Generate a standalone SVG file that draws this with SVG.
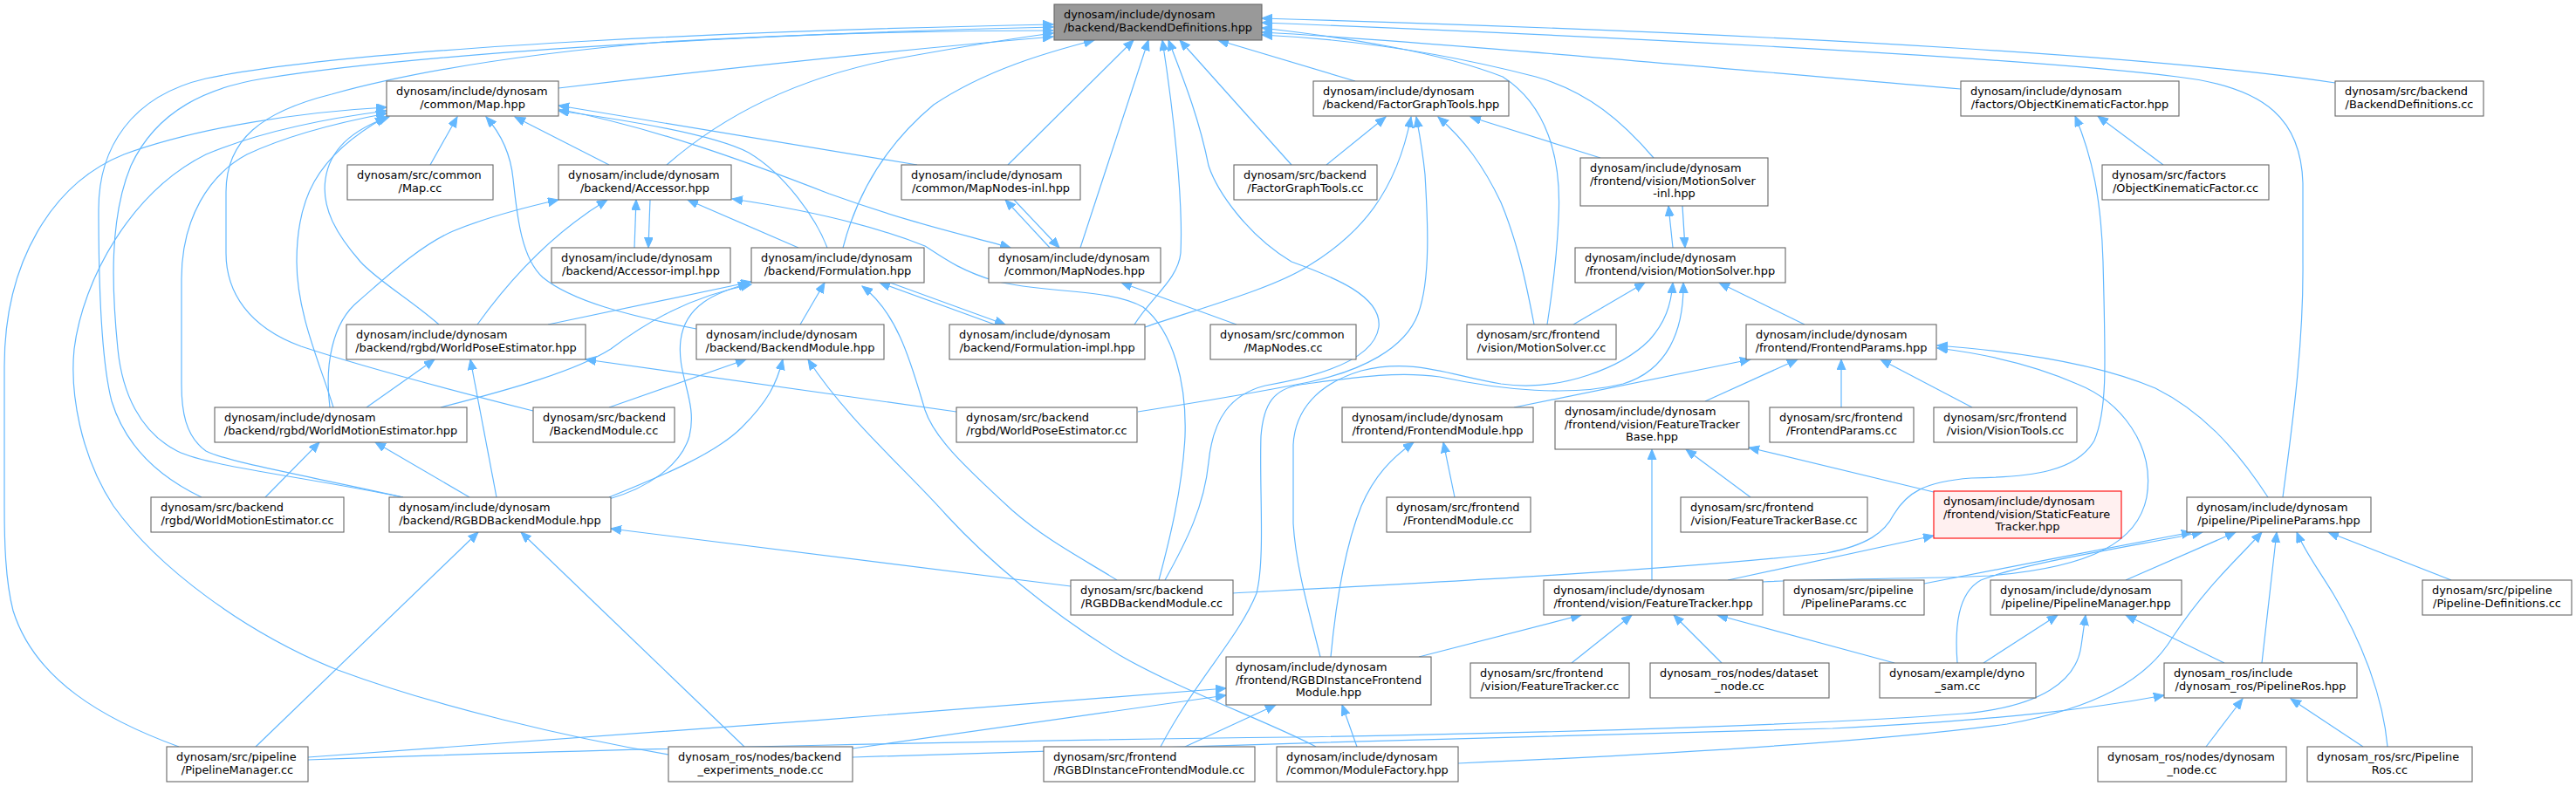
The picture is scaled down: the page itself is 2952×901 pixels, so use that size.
<svg xmlns="http://www.w3.org/2000/svg" width="2952" height="901" viewBox="0 0 2952 901">
<style>
.n rect{fill:#fff;stroke:#666;stroke-width:1.1}
.r rect{fill:#999;stroke:#666;stroke-width:1.1}
.t rect{fill:#fff0f0;stroke:#f00;stroke-width:1.1}
text{font-family:"DejaVu Sans","Liberation Sans",sans-serif;font-size:12.9px;fill:#000}
.c{text-anchor:middle}
#edges path{fill:none;stroke:#63b8ff;stroke-width:1.2;marker-end:url(#a)}
</style>
<defs>
<marker id="a" markerWidth="13" markerHeight="11" refX="12" refY="5" orient="auto" markerUnits="userSpaceOnUse"><path d="M0,0 L12,5 L0,10 z" fill="#63b8ff" stroke="#63b8ff" stroke-width="1"/></marker>
</defs>
<rect width="2952" height="901" fill="#fff"/>
<g id="edges">
<path d="M640,101 C800,82 1000,60 1207,42"/>
<path d="M231,570 C185,548 145,515 128,460 C115,410 113,300 113,240 C113,170 150,110 236,90 C420,52 900,34 1207,28"/>
<path d="M462,570 C340,545 240,535 203,517 C160,495 140,450 135,400 C128,330 125,250 150,190 C180,125 240,100 302,90 C500,58 900,38 1207,31"/>
<path d="M611,471 C520,448 420,422 345,397 C285,375 259,335 259,290 L259,220 C259,160 300,128 380,108 C480,80 620,60 760,48 C930,38 1100,35 1207,35"/>
<path d="M493,189 L524,134"/>
<path d="M698,189 L590,134"/>
<path d="M798,377 C720,362 655,345 622,318 C596,295 592,240 588,205 C585,175 573,152 557,134"/>
<path d="M503,372 C470,343 433,322 413,300 C385,268 368,238 373,205 C378,170 405,148 446,134"/>
<path d="M382,467 C368,420 340,360 340,300 C340,230 360,180 442,134"/>
<path d="M462,570 C350,545 262,530 236,517 C212,500 208,470 208,440 L208,320 C208,250 240,200 283,177 C330,155 390,140 443,130"/>
<path d="M766,865 C650,845 500,810 387,768 C280,725 180,650 130,580 C92,522 80,450 85,400 C95,320 150,220 236,177 C300,150 380,135 443,127"/>
<path d="M205,856 C120,825 40,780 15,700 C6,665 5,620 5,580 L5,420 C5,300 60,210 142,177 C230,145 350,128 443,123"/>
<path d="M948,284 C935,250 900,200 858,175 C820,155 720,138 640,127"/>
<path d="M1051,189 L640,121"/>
<path d="M640,125 C750,147 850,183 950,222 C1050,258 1110,270 1158,284"/>
<path d="M1203,284 L1152,229"/>
<path d="M1162,229 L1214,284"/>
<path d="M1155,189 L1299,46"/>
<path d="M1238,284 L1316,46"/>
<path d="M966,284 C980,230 1010,170 1070,120 C1130,80 1200,60 1254,46"/>
<path d="M764,189 C820,140 900,92 1023,68 C1100,54 1160,44 1207,38"/>
<path d="M1480,189 L1352,46"/>
<path d="M1553,93 L1396,46"/>
<path d="M2247,102 C1900,72 1600,45 1446,37"/>
<path d="M2676,95 C2500,68 2100,40 1446,21"/>
<path d="M2616,570 C2625,500 2640,400 2639,300 L2639,210 C2637,140 2600,100 2495,88 C2300,64 1800,40 1446,26"/>
<path d="M1895,181 C1860,140 1820,105 1760,88 C1660,62 1550,45 1446,40"/>
<path d="M1773,372 C1778,340 1784,300 1786,250 C1790,180 1772,120 1722,88 C1650,60 1550,44 1446,32"/>
<path d="M1520,189 L1588,134"/>
<path d="M1834,181 L1685,134"/>
<path d="M1758,372 C1750,330 1740,280 1720,232 C1700,190 1678,160 1648,134"/>
<path d="M1312,375 C1380,352 1460,330 1499,305 C1560,268 1600,220 1617,134"/>
<path d="M1917,284 L1912,236"/>
<path d="M1928,236 L1931,284"/>
<path d="M1803,372 L1885,324"/>
<path d="M2068,372 L1970,324"/>
<path d="M2479,189 L2404,133"/>
<path d="M1412,680 C1600,670 1900,655 2093,634 C2140,625 2160,610 2170,590 C2185,565 2205,552 2259,548 C2330,547 2380,540 2400,505 C2415,470 2413,420 2410,300 C2408,230 2398,180 2378,133"/>
<path d="M2599,570 C2560,510 2520,470 2470,445 C2400,415 2300,402 2220,396"/>
<path d="M2020,667 C2100,663 2200,664 2280,660 C2400,650 2450,620 2460,570 C2470,510 2430,460 2380,440 C2330,418 2270,405 2220,399"/>
<path d="M1735,467 L2006,412"/>
<path d="M1954,460 L2060,412"/>
<path d="M2110,467 L2110,412"/>
<path d="M2260,467 L2155,412"/>
<path d="M2220,565 L2004,513"/>
<path d="M1893,665 L1893,515"/>
<path d="M2006,570 L1932,515"/>
<path d="M1667,570 L1654,507"/>
<path d="M1525,753 C1530,700 1540,630 1560,580 C1575,545 1595,525 1620,507"/>
<path d="M1980,665 L2216,614"/>
<path d="M1626,753 L1812,705"/>
<path d="M1801,760 L1870,705"/>
<path d="M1973,760 L1918,705"/>
<path d="M2171,760 L1968,705"/>
<path d="M2273,760 L2358,705"/>
<path d="M2243,760 C2240,720 2243,680 2270,665 C2320,645 2450,625 2524,610"/>
<path d="M2205,669 C2300,650 2420,628 2512,610"/>
<path d="M2436,665 L2562,610"/>
<path d="M2592,760 L2609,610"/>
<path d="M2736,856 C2731,800 2708,738 2674,681 C2655,650 2640,630 2632,610"/>
<path d="M2809,665 L2668,610"/>
<path d="M1671,875 C1900,865 2150,850 2300,830 C2400,812 2460,780 2490,730 C2530,670 2565,640 2592,610"/>
<path d="M353,871 C700,858 1200,848 1480,845 C1800,840 2100,830 2250,818 C2340,810 2380,780 2385,740 L2390,705"/>
<path d="M353,868 C600,850 1100,815 1405,789"/>
<path d="M977,858 L1405,797"/>
<path d="M977,868 C1300,855 1800,845 2100,835 C2300,825 2400,812 2480,797"/>
<path d="M2528,856 L2570,801"/>
<path d="M2708,856 L2625,801"/>
<path d="M2549,760 L2436,705"/>
<path d="M1555,856 L1538,808"/>
<path d="M1358,856 L1462,808"/>
<path d="M1508,856 C1460,830 1350,790 1283,751 C1200,700 1130,640 1085,591 C1040,540 970,480 926,412"/>
<path d="M1280,665 C1240,640 1200,620 1160,585 C1100,530 1070,500 1060,470 C1045,420 1030,360 988,328"/>
<path d="M1328,665 C1340,620 1355,560 1358,500 C1360,440 1345,380 1310,352 C1270,330 1200,337 1140,322 C1100,310 1080,295 1060,282 C1000,258 920,240 839,228"/>
<path d="M1227,672 C1000,645 800,620 700,606"/>
<path d="M293,856 L548,610"/>
<path d="M853,856 L597,610"/>
<path d="M698,570 C760,545 820,520 850,490 C880,460 890,440 897,412"/>
<path d="M698,572 C740,560 780,535 790,500 C800,460 775,430 780,390 C785,350 820,335 858,325"/>
<path d="M569,570 L539,412"/>
<path d="M538,570 L430,507"/>
<path d="M304,570 L366,507"/>
<path d="M420,467 L498,412"/>
<path d="M378,467 C372,420 380,370 411,345 C440,320 480,282 519,265 C560,248 600,238 640,229"/>
<path d="M505,467 C590,445 660,425 700,400 C740,370 790,340 861,326"/>
<path d="M628,372 L861,323"/>
<path d="M547,372 C570,340 620,275 696,229"/>
<path d="M1096,472 L671,412"/>
<path d="M698,467 L855,412"/>
<path d="M917,372 L945,324"/>
<path d="M1140,372 L1008,324"/>
<path d="M1020,324 L1152,372"/>
<path d="M727,284 L729,229"/>
<path d="M745,229 L743,284"/>
<path d="M915,284 L788,229"/>
<path d="M1417,372 L1285,324"/>
<path d="M1300,372 C1320,340 1350,320 1353,290 C1356,230 1345,130 1332,46"/>
<path d="M1335,665 C1360,620 1380,580 1385,530 C1390,480 1410,452 1450,442 C1520,430 1575,410 1580,375 C1584,340 1530,318 1480,300 C1430,270 1395,220 1385,190 C1375,140 1360,100 1339,46"/>
<path d="M1330,856 C1370,780 1420,730 1440,680 C1450,640 1443,560 1445,500 C1448,462 1460,446 1490,441 C1550,433 1600,425 1650,432 C1720,447 1800,455 1860,440 C1910,425 1930,380 1929,324"/>
<path d="M1513,753 C1500,700 1485,650 1482,600 L1482,510 C1484,470 1510,440 1560,425 C1620,410 1660,430 1720,440 C1790,450 1860,420 1890,390 C1908,370 1915,350 1917,324"/>
<path d="M1304,472 C1380,460 1440,450 1500,438 C1560,425 1610,400 1625,360 C1640,320 1636,250 1633,200 C1630,170 1626,150 1623,134"/>
</g>
<g id="n0" class="r"><rect x="1208" y="5" width="238" height="41"/><text x="1219" y="21">dynosam/include/dynosam</text><text x="1327" y="36" class="c">/backend/BackendDefinitions.hpp</text></g>
<g id="n1" class="n"><rect x="443" y="93" width="197" height="40"/><text x="454" y="109">dynosam/include/dynosam</text><text x="541.5" y="124" class="c">/common/Map.hpp</text></g>
<g id="n2" class="n"><rect x="398" y="189" width="167" height="40"/><text x="409" y="205">dynosam/src/common</text><text x="481.5" y="220" class="c">/Map.cc</text></g>
<g id="n3" class="n"><rect x="640" y="189" width="198" height="40"/><text x="651" y="205">dynosam/include/dynosam</text><text x="739" y="220" class="c">/backend/Accessor.hpp</text></g>
<g id="n4" class="n"><rect x="632" y="284" width="205" height="40"/><text x="643" y="300">dynosam/include/dynosam</text><text x="734.5" y="315" class="c">/backend/Accessor-impl.hpp</text></g>
<g id="n5" class="n"><rect x="861" y="284" width="198" height="40"/><text x="872" y="300">dynosam/include/dynosam</text><text x="960" y="315" class="c">/backend/Formulation.hpp</text></g>
<g id="n6" class="n"><rect x="1033" y="189" width="205" height="40"/><text x="1044" y="205">dynosam/include/dynosam</text><text x="1135.5" y="220" class="c">/common/MapNodes-inl.hpp</text></g>
<g id="n7" class="n"><rect x="1133" y="284" width="197" height="40"/><text x="1144" y="300">dynosam/include/dynosam</text><text x="1231.5" y="315" class="c">/common/MapNodes.hpp</text></g>
<g id="n8" class="n"><rect x="1505" y="93" width="224" height="40"/><text x="1516" y="109">dynosam/include/dynosam</text><text x="1617" y="124" class="c">/backend/FactorGraphTools.hpp</text></g>
<g id="n9" class="n"><rect x="1414" y="189" width="164" height="40"/><text x="1425" y="205">dynosam/src/backend</text><text x="1496" y="220" class="c">/FactorGraphTools.cc</text></g>
<g id="n10" class="n"><rect x="1811" y="181" width="215" height="55"/><text x="1822" y="197">dynosam/include/dynosam</text><text x="1822" y="211.5">/frontend/vision/MotionSolver</text><text x="1918.5" y="226" class="c">-inl.hpp</text></g>
<g id="n11" class="n"><rect x="1805" y="284" width="241" height="40"/><text x="1816" y="300">dynosam/include/dynosam</text><text x="1925.5" y="315" class="c">/frontend/vision/MotionSolver.hpp</text></g>
<g id="n12" class="n"><rect x="2247" y="93" width="250" height="40"/><text x="2258" y="109">dynosam/include/dynosam</text><text x="2372" y="124" class="c">/factors/ObjectKinematicFactor.hpp</text></g>
<g id="n13" class="n"><rect x="2409" y="189" width="191" height="40"/><text x="2420" y="205">dynosam/src/factors</text><text x="2504.5" y="220" class="c">/ObjectKinematicFactor.cc</text></g>
<g id="n14" class="n"><rect x="2676" y="93" width="170" height="40"/><text x="2687" y="109">dynosam/src/backend</text><text x="2761" y="124" class="c">/BackendDefinitions.cc</text></g>
<g id="n15" class="n"><rect x="397" y="372" width="274" height="40"/><text x="408" y="388">dynosam/include/dynosam</text><text x="534" y="403" class="c">/backend/rgbd/WorldPoseEstimator.hpp</text></g>
<g id="n16" class="n"><rect x="798" y="372" width="215" height="40"/><text x="809" y="388">dynosam/include/dynosam</text><text x="905.5" y="403" class="c">/backend/BackendModule.hpp</text></g>
<g id="n17" class="n"><rect x="1088" y="372" width="224" height="40"/><text x="1099" y="388">dynosam/include/dynosam</text><text x="1200" y="403" class="c">/backend/Formulation-impl.hpp</text></g>
<g id="n18" class="n"><rect x="1387" y="372" width="167" height="40"/><text x="1398" y="388">dynosam/src/common</text><text x="1470.5" y="403" class="c">/MapNodes.cc</text></g>
<g id="n19" class="n"><rect x="1681" y="372" width="171" height="40"/><text x="1692" y="388">dynosam/src/frontend</text><text x="1766.5" y="403" class="c">/vision/MotionSolver.cc</text></g>
<g id="n20" class="n"><rect x="2001" y="372" width="218" height="40"/><text x="2012" y="388">dynosam/include/dynosam</text><text x="2110" y="403" class="c">/frontend/FrontendParams.hpp</text></g>
<g id="n21" class="n"><rect x="246" y="467" width="289" height="40"/><text x="257" y="483">dynosam/include/dynosam</text><text x="390.5" y="498" class="c">/backend/rgbd/WorldMotionEstimator.hpp</text></g>
<g id="n22" class="n"><rect x="611" y="467" width="162" height="40"/><text x="622" y="483">dynosam/src/backend</text><text x="692" y="498" class="c">/BackendModule.cc</text></g>
<g id="n23" class="n"><rect x="1096" y="467" width="207" height="40"/><text x="1107" y="483">dynosam/src/backend</text><text x="1199.5" y="498" class="c">/rgbd/WorldPoseEstimator.cc</text></g>
<g id="n24" class="n"><rect x="1538" y="467" width="219" height="40"/><text x="1549" y="483">dynosam/include/dynosam</text><text x="1647.5" y="498" class="c">/frontend/FrontendModule.hpp</text></g>
<g id="n25" class="n"><rect x="1782" y="460" width="222" height="55"/><text x="1793" y="476">dynosam/include/dynosam</text><text x="1793" y="490.5">/frontend/vision/FeatureTracker</text><text x="1893" y="505" class="c">Base.hpp</text></g>
<g id="n26" class="n"><rect x="2028" y="467" width="165" height="40"/><text x="2039" y="483">dynosam/src/frontend</text><text x="2110.5" y="498" class="c">/FrontendParams.cc</text></g>
<g id="n27" class="n"><rect x="2216" y="467" width="164" height="40"/><text x="2227" y="483">dynosam/src/frontend</text><text x="2298" y="498" class="c">/vision/VisionTools.cc</text></g>
<g id="n28" class="n"><rect x="173" y="570" width="221" height="40"/><text x="184" y="586">dynosam/src/backend</text><text x="283.5" y="601" class="c">/rgbd/WorldMotionEstimator.cc</text></g>
<g id="n29" class="n"><rect x="446" y="570" width="254" height="40"/><text x="457" y="586">dynosam/include/dynosam</text><text x="573" y="601" class="c">/backend/RGBDBackendModule.hpp</text></g>
<g id="n30" class="n"><rect x="1589" y="570" width="165" height="40"/><text x="1600" y="586">dynosam/src/frontend</text><text x="1671.5" y="601" class="c">/FrontendModule.cc</text></g>
<g id="n31" class="n"><rect x="1926" y="570" width="214" height="40"/><text x="1937" y="586">dynosam/src/frontend</text><text x="2033" y="601" class="c">/vision/FeatureTrackerBase.cc</text></g>
<g id="n32" class="t"><rect x="2216" y="563" width="215" height="54"/><text x="2227" y="579">dynosam/include/dynosam</text><text x="2227" y="593.5">/frontend/vision/StaticFeature</text><text x="2323.5" y="608" class="c">Tracker.hpp</text></g>
<g id="n33" class="n"><rect x="2506" y="570" width="211" height="40"/><text x="2517" y="586">dynosam/include/dynosam</text><text x="2611.5" y="601" class="c">/pipeline/PipelineParams.hpp</text></g>
<g id="n34" class="n"><rect x="1227" y="665" width="186" height="40"/><text x="1238" y="681">dynosam/src/backend</text><text x="1320" y="696" class="c">/RGBDBackendModule.cc</text></g>
<g id="n35" class="n"><rect x="1769" y="665" width="251" height="40"/><text x="1780" y="681">dynosam/include/dynosam</text><text x="1894.5" y="696" class="c">/frontend/vision/FeatureTracker.hpp</text></g>
<g id="n36" class="n"><rect x="2044" y="665" width="161" height="40"/><text x="2055" y="681">dynosam/src/pipeline</text><text x="2124.5" y="696" class="c">/PipelineParams.cc</text></g>
<g id="n37" class="n"><rect x="2281" y="665" width="219" height="40"/><text x="2292" y="681">dynosam/include/dynosam</text><text x="2390.5" y="696" class="c">/pipeline/PipelineManager.hpp</text></g>
<g id="n38" class="n"><rect x="2776" y="665" width="171" height="40"/><text x="2787" y="681">dynosam/src/pipeline</text><text x="2861.5" y="696" class="c">/Pipeline-Definitions.cc</text></g>
<g id="n39" class="n"><rect x="1405" y="753" width="235" height="55"/><text x="1416" y="769">dynosam/include/dynosam</text><text x="1416" y="783.5">/frontend/RGBDInstanceFrontend</text><text x="1522.5" y="798" class="c">Module.hpp</text></g>
<g id="n40" class="n"><rect x="1685" y="760" width="182" height="40"/><text x="1696" y="776">dynosam/src/frontend</text><text x="1776" y="791" class="c">/vision/FeatureTracker.cc</text></g>
<g id="n41" class="n"><rect x="1891" y="760" width="205" height="40"/><text x="1902" y="776">dynosam_ros/nodes/dataset</text><text x="1993.5" y="791" class="c">_node.cc</text></g>
<g id="n42" class="n"><rect x="2154" y="760" width="179" height="40"/><text x="2165" y="776">dynosam/example/dyno</text><text x="2243.5" y="791" class="c">_sam.cc</text></g>
<g id="n43" class="n"><rect x="2480" y="760" width="221" height="40"/><text x="2491" y="776">dynosam_ros/include</text><text x="2590.5" y="791" class="c">/dynosam_ros/PipelineRos.hpp</text></g>
<g id="n44" class="n"><rect x="191" y="856" width="162" height="40"/><text x="202" y="872">dynosam/src/pipeline</text><text x="272" y="887" class="c">/PipelineManager.cc</text></g>
<g id="n45" class="n"><rect x="766" y="856" width="211" height="40"/><text x="777" y="872">dynosam_ros/nodes/backend</text><text x="871.5" y="887" class="c">_experiments_node.cc</text></g>
<g id="n46" class="n"><rect x="1196" y="856" width="242" height="40"/><text x="1207" y="872">dynosam/src/frontend</text><text x="1317" y="887" class="c">/RGBDInstanceFrontendModule.cc</text></g>
<g id="n47" class="n"><rect x="1463" y="856" width="208" height="40"/><text x="1474" y="872">dynosam/include/dynosam</text><text x="1567" y="887" class="c">/common/ModuleFactory.hpp</text></g>
<g id="n48" class="n"><rect x="2404" y="856" width="216" height="40"/><text x="2415" y="872">dynosam_ros/nodes/dynosam</text><text x="2512" y="887" class="c">_node.cc</text></g>
<g id="n49" class="n"><rect x="2644" y="856" width="189" height="40"/><text x="2655" y="872">dynosam_ros/src/Pipeline</text><text x="2738.5" y="887" class="c">Ros.cc</text></g>
</svg>
